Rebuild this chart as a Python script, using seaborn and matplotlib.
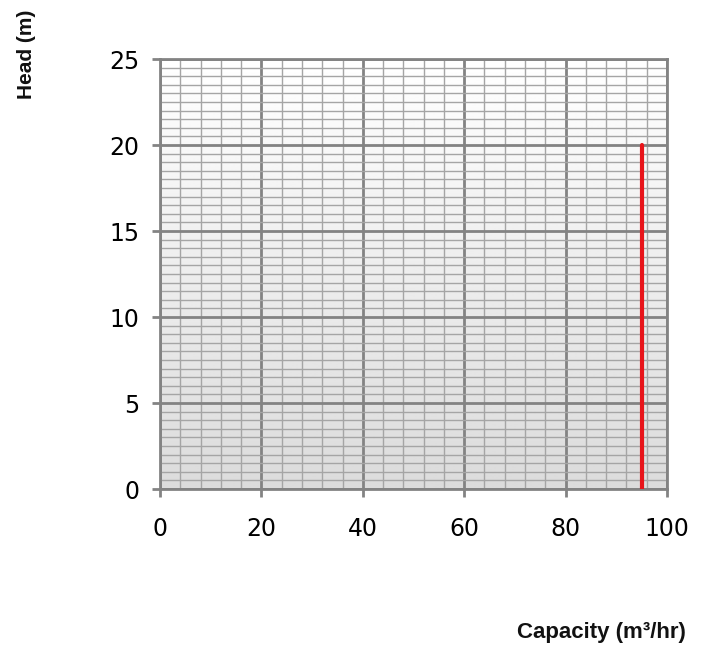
import seaborn as sns
import matplotlib.pyplot as plt
import numpy as np
from matplotlib.ticker import MultipleLocator

# data
capacity = [95, 95]
head = [0, 20]
x_ticks = [0, 20, 40, 60, 80, 100]
y_ticks = [0, 5, 10, 15, 20, 25]

sns.set_style("white")
plt.rcParams['font.family'] = ['DejaVu Sans']

fig = plt.figure(figsize=(7.07, 6.49), dpi=100)
ax = fig.add_axes([0.2263, 0.2465, 0.7171, 0.6625])

# light gradient background, white at top to grey at bottom
grad = np.linspace(1.0, 0.86, 256).reshape(-1, 1)
ax.imshow(grad, extent=[0, 100, 0, 25], aspect='auto', cmap='gray',
          vmin=0, vmax=1, origin='upper', zorder=0)

sns.lineplot(x=capacity, y=head, estimator=None, sort=False, color='#e8141a',
             linewidth=3, ax=ax, zorder=5)

ax.set_xlim(0, 100)
ax.set_ylim(0, 25)
ax.set_xticks(x_ticks)
ax.set_yticks(y_ticks)
ax.xaxis.set_minor_locator(MultipleLocator(4))
ax.yaxis.set_minor_locator(MultipleLocator(0.5))
ax.grid(which='major', color='#838383', linewidth=2, zorder=2)
ax.grid(which='minor', color='#a5a5a5', linewidth=1, zorder=1)
ax.set_axisbelow(True)

for s in ax.spines.values():
    s.set_color('#838383')
    s.set_linewidth(2)

ax.tick_params(which='major', direction='out', length=6, width=2, color='#838383',
               labelsize=17, labelcolor='black', bottom=True, left=True)
ax.tick_params(axis='x', pad=14)
ax.tick_params(axis='y', pad=9)
ax.tick_params(which='minor', length=0)
ax.set_xlabel('')
ax.set_ylabel('')

fig.text(0.037, 0.917, 'Head (m)', rotation=90, ha='center', va='center',
         fontsize=15, fontweight='bold', family='Liberation Sans', color='#111111')
fig.text(0.850, 0.025, 'Capacity (m³/hr)', ha='center', va='center',
         fontsize=16, fontweight='bold', family='Liberation Sans', color='#111111')

fig.savefig('out.png', dpi=100)
